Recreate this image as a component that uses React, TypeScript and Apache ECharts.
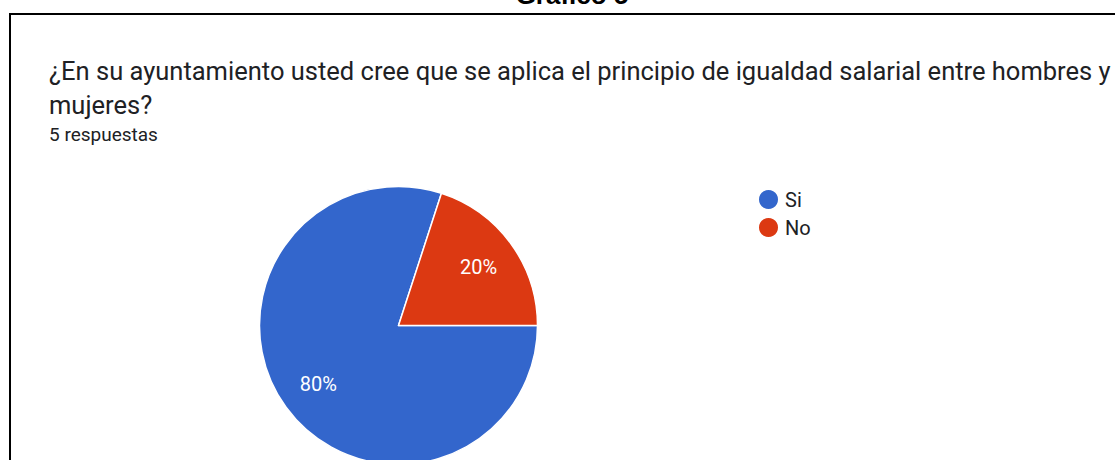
import React, { useEffect, useRef } from "react";
import * as echarts from "echarts";

const categories = ["Si", "No"];
const values = [4, 1];
const colors = ["#3366cc", "#dc3912"];
const docTitle = "Gráfico 5";
const line1 = "¿En su ayuntamiento usted cree que se aplica el principio de igualdad salarial entre hombres y";
const line2 = "mujeres?";
const responses = "5 respuestas";

export default function App() {
  const ref = useRef<HTMLDivElement>(null);
  useEffect(() => {
    if (!ref.current) return;
    const chart = echarts.init(ref.current, undefined, { renderer: "svg" });
    const data = categories.map((c, i) => ({ name: c, value: values[i], itemStyle: { color: colors[i] } }));
    const total = values.reduce((a, b) => a + b, 0);
    chart.setOption({
      animation: false,
      backgroundColor: "#ffffff",
      legend: {
        orient: "vertical",
        left: 752,
        top: 183,
        icon: "circle",
        itemWidth: 21,
        itemHeight: 21,
        itemGap: 5,
        data: categories,
        textStyle: { fontFamily: "Roboto", fontSize: 20, color: "#202124", padding: [0, 0, 0, 1] },
        selectedMode: false,
      },
      graphic: [
        {
          type: "rect",
          shape: { x: 10, y: 14, width: 1200, height: 600 },
          style: { fill: "none", stroke: "#000", lineWidth: 2 },
          silent: true,
        },
        {
          type: "text",
          x: 572,
          y: -5,
          style: {
            text: docTitle,
            fontFamily: "Liberation Sans",
            fontWeight: "bold",
            fontSize: 26,
            fill: "#000",
            align: "center",
            verticalAlign: "middle",
          },
        },
        {
          type: "text",
          x: 49,
          y: 71,
          style: { text: line1, fontFamily: "Roboto", fontSize: 25.5, fill: "#202124", verticalAlign: "middle" },
        },
        {
          type: "text",
          x: 49,
          y: 105,
          style: { text: line2, fontFamily: "Roboto", fontSize: 25.5, fill: "#202124", verticalAlign: "middle" },
        },
        {
          type: "text",
          x: 49,
          y: 134,
          style: { text: responses, fontFamily: "Roboto", fontSize: 19, fill: "#202124", verticalAlign: "middle" },
        },
      ],
      series: [
        {
          type: "pie",
          center: [398.5, 325.5],
          radius: [0, 139],
          startAngle: 0,
          clockwise: true,
          data,
          label: { show: false },
          labelLine: { show: false },
          itemStyle: { borderColor: "#ffffff", borderWidth: 1.5 },
          emphasis: { disabled: true },
        },
        {
          type: "pie",
          center: [398.5, 325.5],
          radius: [53, 139],
          startAngle: 0,
          clockwise: true,
          silent: true,
          data: categories.map((c, i) => ({ name: c, value: values[i] })),
          itemStyle: { color: "transparent" },
          label: {
            show: true,
            position: "inside",
            formatter: (p: any) => Math.round((p.value / total) * 100) + "%",
            fontFamily: "Roboto",
            fontSize: 20,
            color: "#ffffff",
          },
          labelLine: { show: false },
          emphasis: { disabled: true },
        },
      ],
    });
    return () => chart.dispose();
  }, []);
  return <div ref={ref} style={{ position: "fixed", left: 0, top: 0, width: 1115, height: 460 }} />;
}
